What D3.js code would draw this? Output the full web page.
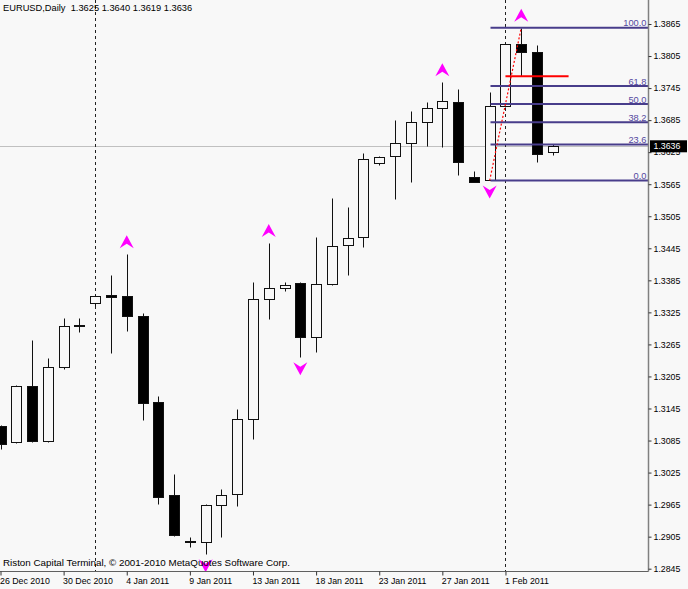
<!DOCTYPE html>
<html><head><meta charset="utf-8">
<script src="https://cdn.jsdelivr.net/npm/d3@7"></script>
<style>html,body{margin:0;padding:0;background:#f8f8f8;}svg{display:block;}</style>
</head><body>
<svg id="c" width="688" height="589"></svg>
<script>
// ---- data ----
const dates = ["2010-12-26","2010-12-27","2010-12-28","2010-12-29","2010-12-30","2010-12-31",
  "2011-01-02","2011-01-03","2011-01-04","2011-01-05","2011-01-06","2011-01-07",
  "2011-01-09","2011-01-10","2011-01-11","2011-01-12","2011-01-13","2011-01-14",
  "2011-01-16","2011-01-17","2011-01-18","2011-01-19","2011-01-20","2011-01-21",
  "2011-01-23","2011-01-24","2011-01-25","2011-01-26","2011-01-27","2011-01-28",
  "2011-01-30","2011-01-31","2011-02-01","2011-02-02","2011-02-03","2011-02-04"];
const openP  = [1.3112,1.3082,1.3187,1.3084,1.3223,1.3300,1.3342,1.3358,1.3356,1.3318,1.3157,1.2983,
  1.2895,1.2895,1.2964,1.2985,1.3125,1.3350,1.3370,1.3380,1.3279,1.3378,1.3451,1.3466,
  1.3605,1.3618,1.3642,1.3682,1.3708,1.3719,1.3579,1.3573,1.3711,1.3827,1.3813,1.3625];
const highP  = [1.3114,1.3189,1.3273,1.3240,1.3314,1.3314,1.3357,1.3395,1.3434,1.3324,1.3168,1.3022,
  1.2904,1.2966,1.2994,1.3144,1.3382,1.3455,1.3382,1.3381,1.3466,1.3539,1.3522,1.3623,
  1.3618,1.3685,1.3702,1.3719,1.3756,1.3743,1.3590,1.3738,1.3829,1.3858,1.3826,1.3640];
const lowP   = [1.3069,1.3080,1.3082,1.3083,1.3219,1.3288,1.3337,1.3249,1.3290,1.3123,1.2966,1.2906,
  1.2886,1.2872,1.2904,1.2962,1.3088,1.3313,1.3365,1.3241,1.3251,1.3376,1.3395,1.3447,
  1.3601,1.3537,1.3569,1.3637,1.3635,1.3582,1.3569,1.3572,1.3710,1.3767,1.3607,1.3619];
const closeP = [1.3079,1.3187,1.3084,1.3223,1.3299,1.3302,1.3356,1.3354,1.3318,1.3155,1.2979,1.2908,
  1.2896,1.2964,1.2983,1.3125,1.3350,1.3371,1.3377,1.3279,1.3378,1.3449,1.3464,1.3612,
  1.3616,1.3642,1.3682,1.3708,1.3721,1.3607,1.3570,1.3711,1.3827,1.3813,1.3622,1.3636];
const yTickValues = [1.3865,1.3805,1.3745,1.3685,1.3625,1.3565,1.3505,1.3445,1.3385,1.3325,
  1.3265,1.3205,1.3145,1.3085,1.3025,1.2965,1.2905,1.2845];
const xTickIndex  = [0,4,8,12,16,20,24,28,32];
const xTickLabels = ["26 Dec 2010","30 Dec 2010","4 Jan 2011","9 Jan 2011","13 Jan 2011",
  "18 Jan 2011","23 Jan 2011","27 Jan 2011","1 Feb 2011"];
const fibLevels = [0, 23.6, 38.2, 50.0, 61.8, 100.0];
const fibLowIndex = 31, fibLowPrice = 1.3572;
const fibHighIndex = 33, fibHighPrice = 1.3858;
const fractalUp = [8, 17, 28, 33];
const fractalDown = [13, 19, 31];
const periodSeparators = [6, 32];
const redLinePrice = 1.3767, redLineFrom = 32, redLineTo = 36;
const currentPrice = 1.3636;
const titleText = "EURUSD,Daily  1.3625 1.3640 1.3619 1.3636";
const copyrightText = "Riston Capital Terminal, \u00A9 2001-2010 MetaQuotes Software Corp.";

// ---- layout ----
const W = 688, H = 589, plotRight = 648.5, plotBottom = 571.5;
const BG = "#f8f8f8", FIB = "#483d8b", FONT = "'Liberation Sans', Arial, sans-serif";
const svg = d3.select("#c");
svg.append("rect").attr("width", W).attr("height", H).attr("fill", BG);

const x = d3.scaleLinear().domain([0, 35]).range([0.5, 552.8]);
const y = d3.scaleLinear().domain([1.2845, 1.3865]).range([568.7, 24]);
const cx = i => Math.round(x(i)) + 0.5;
const cy = p => Math.round(y(p)) + 0.5;

svg.append("clipPath").attr("id", "plot").append("rect")
  .attr("x", 0).attr("y", 0).attr("width", plotRight).attr("height", plotBottom);
const g = svg.append("g").attr("clip-path", "url(#plot)");

// current price line
g.append("line").attr("x1", 0).attr("x2", plotRight)
  .attr("y1", cy(currentPrice)).attr("y2", cy(currentPrice))
  .attr("stroke", "#c0c0c0").attr("stroke-width", 1);

// period separators
g.selectAll("line.sep").data(periodSeparators).join("line").attr("class", "sep")
  .attr("x1", d => cx(d)).attr("x2", d => cx(d)).attr("y1", 0).attr("y2", plotBottom)
  .attr("stroke", "#222").attr("stroke-width", 1).attr("stroke-dasharray", "3,3");

// candles
const idx = d3.range(openP.length);
g.selectAll("line.wick").data(idx).join("line").attr("class", "wick")
  .attr("x1", i => cx(i)).attr("x2", i => cx(i))
  .attr("y1", i => cy(highP[i])).attr("y2", i => cy(lowP[i]))
  .attr("stroke", "#111").attr("stroke-width", 1);
g.selectAll("rect.body").data(idx).join("rect").attr("class", "body")
  .attr("x", i => cx(i) - 5).attr("width", 10)
  .attr("y", i => cy(Math.max(openP[i], closeP[i])))
  .attr("height", i => Math.max(1, cy(Math.min(openP[i], closeP[i])) - cy(Math.max(openP[i], closeP[i]))))
  .attr("fill", i => closeP[i] >= openP[i] ? BG : "#000")
  .attr("stroke", "#111").attr("stroke-width", 1);

// fibonacci
const fibPrice = l => fibLowPrice + (fibHighPrice - fibLowPrice) * l / 100;
g.selectAll("line.fib").data(fibLevels).join("line").attr("class", "fib")
  .attr("x1", cx(fibLowIndex)).attr("x2", plotRight)
  .attr("y1", d => y(fibPrice(d))).attr("y2", d => y(fibPrice(d)))
  .attr("stroke", FIB).attr("stroke-width", 2);
g.selectAll("text.fib").data(fibLevels).join("text").attr("class", "fib")
  .attr("x", 646.5).attr("y", d => y(fibPrice(d)) - 1.5)
  .attr("text-anchor", "end").attr("font-family", FONT).attr("font-size", 9.3)
  .attr("fill", "#5548a0").text(d => d3.format(".1f")(d));
g.append("line")
  .attr("x1", x(fibLowIndex)).attr("y1", y(lowP[fibLowIndex]))
  .attr("x2", x(fibHighIndex)).attr("y2", y(highP[fibHighIndex]))
  .attr("stroke", "#ff0000").attr("stroke-width", 1.2).attr("stroke-dasharray", "2,2");

// red horizontal line
g.append("line").attr("x1", x(redLineFrom)).attr("x2", x(redLineTo))
  .attr("y1", y(redLinePrice)).attr("y2", y(redLinePrice))
  .attr("stroke", "#ff0000").attr("stroke-width", 2);

// copyright
svg.append("text").attr("x", 3).attr("y", 566).attr("font-family", FONT).attr("font-size", 9.8)
  .attr("fill", "#000").text(copyrightText);

// fractal arrows
g.selectAll("path.up").data(fractalUp).join("path").attr("class", "up")
  .attr("transform", i => `translate(${x(i)},${y(highP[i]) - 19})`)
  .attr("d", "M0,0L7,13L0,8.5L-7,13Z").attr("fill", "#ff00ff");
g.selectAll("path.dn").data(fractalDown).join("path").attr("class", "dn")
  .attr("transform", i => `translate(${x(i)},${y(lowP[i]) + 18})`)
  .attr("d", "M0,0L7,-13L0,-8.5L-7,-13Z").attr("fill", "#ff00ff");

// axes
svg.append("line").attr("x1", plotRight).attr("x2", plotRight).attr("y1", 0).attr("y2", plotBottom)
  .attr("stroke", "#808080").attr("stroke-width", 1.5);
svg.append("line").attr("x1", 0).attr("x2", plotRight).attr("y1", plotBottom).attr("y2", plotBottom)
  .attr("stroke", "#606060").attr("stroke-width", 1);

const yAxis = svg.append("g").attr("transform", `translate(${plotRight},0)`)
  .call(d3.axisRight(y).tickValues(yTickValues).tickSize(3).tickPadding(2).tickFormat(d3.format(".4f")));
yAxis.select(".domain").remove();
yAxis.selectAll("line").attr("stroke", "#333");
yAxis.selectAll("text").attr("font-family", FONT).attr("font-size", 8.8).attr("fill", "#000");

const xAxis = svg.append("g").attr("transform", `translate(0,${plotBottom})`)
  .call(d3.axisBottom(x).tickValues(xTickIndex).tickSize(4).tickFormat((d, i) => xTickLabels[i]));
xAxis.select(".domain").remove();
xAxis.selectAll("line").attr("stroke", "#333");
xAxis.selectAll("text").attr("font-family", FONT).attr("font-size", 8.8).attr("fill", "#000")
  .attr("text-anchor", "start").attr("x", -1).attr("y", 12.5).attr("dy", 0);

// current price box
const py = y(currentPrice);
svg.append("rect").attr("x", 650).attr("y", py - 6).attr("width", 37).attr("height", 12).attr("fill", "#000");
svg.append("text").attr("x", 653.5).attr("y", py + 3.2).attr("font-family", FONT).attr("font-size", 8.8)
  .attr("fill", "#fff").text(d3.format(".4f")(currentPrice));

// title
svg.append("text").attr("x", 3).attr("y", 10.5).attr("font-family", FONT).attr("font-size", 9.3)
  .attr("fill", "#000").attr("xml:space", "preserve").style("white-space", "pre").text(titleText);
</script>
</body></html>
